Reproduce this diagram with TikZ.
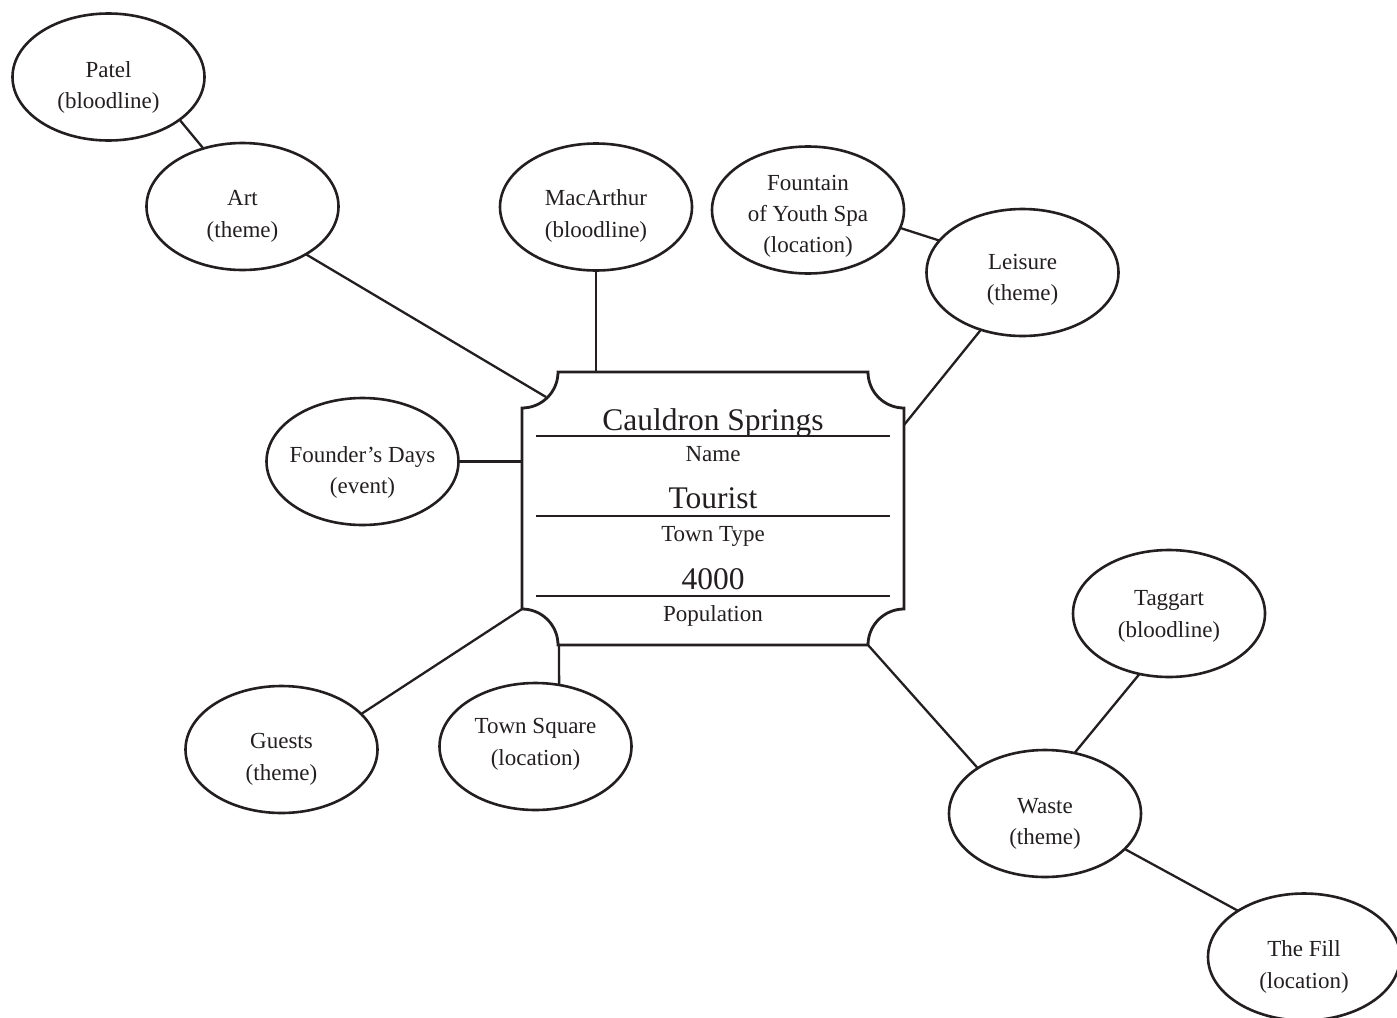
\documentclass[tikz,border=0pt]{standalone}
\usepackage{fontspec}
\setmainfont{Liberation Serif}
\usetikzlibrary{shapes.geometric}
\definecolor{ink}{RGB}{35,31,32}
\tikzset{
  ell/.style={ellipse, draw=ink, line width=2.6pt, minimum width=192pt, minimum height=127pt, inner sep=0pt, outer sep=0pt},
  lbl/.style={anchor=base, text=ink, font=\fontsize{23}{27}\selectfont, inner sep=0pt},
  big/.style={anchor=base, text=ink, font=\fontsize{31.5}{35}\selectfont, inner sep=0pt},
  conn/.style={draw=ink, line width=2.3pt},
  rule/.style={draw=ink, line width=1.3pt},
  boxline/.style={draw=ink, line width=2.8pt, line join=miter}
}
\begin{document}
\begin{tikzpicture}[x=1pt,y=1pt]
\useasboundingbox (0,0) rectangle (1397,-1017);
\fill[white] (0,0) rectangle (1397,-1017);

% central notched box
\draw[boxline] (558,-372) -- (868,-372)
  arc[start angle=180, end angle=270, radius=36] -- (904,-609)
  arc[start angle=90, end angle=180, radius=36] -- (558,-645)
  arc[start angle=0, end angle=90, radius=36] -- (522,-408)
  arc[start angle=270, end angle=360, radius=36] -- cycle;
\draw[rule] (536,-436) -- (890,-436);
\draw[rule] (536,-516) -- (890,-516);
\draw[rule] (536,-596) -- (890,-596);
\node[big] (tname) at (713,-430) {Cauldron Springs};
\node[lbl] (lname) at (713,-461) {Name};
\node[big] (ttype) at (713,-508) {Tourist};
\node[lbl] (ltype) at (713,-541) {Town Type};
\node[big] (tpop) at (713,-589) {4000};
\node[lbl] (lpop) at (713,-621) {Population};

% box attachment points
\coordinate (bArt) at (546,-397);
\coordinate (bMac) at (596,-372);
\coordinate (bLeis) at (904,-425);
\coordinate (bFound) at (522,-461.5);
\coordinate (bGuests) at (522,-609);
\coordinate (bTown) at (559,-645);
\coordinate (bWaste) at (868,-645);

% ellipses
\node[ell] (patel) at (108.5,-77) {};
\node[ell] (art) at (242.5,-206.5) {};
\node[ell] (mac) at (596,-207) {};
\node[ell] (fount) at (808,-210) {};
\node[ell] (leis) at (1022.5,-272.5) {};
\node[ell] (found) at (362.5,-461.5) {};
\node[ell] (guests) at (281.5,-749.5) {};
\node[ell] (town) at (535.5,-746.5) {};
\node[ell] (tagg) at (1169,-613.5) {};
\node[ell] (waste) at (1045,-813.5) {};
\node[ell] (fill) at (1304,-957) {};

% labels
\node[lbl] (patel1) at (108.5,-77) {Patel};
\node[lbl] (patel2) at (108.5,-108) {(bloodline)};
\node[lbl] (art1) at (242.5,-205) {Art};
\node[lbl] (art2) at (242.5,-237) {(theme)};
\node[lbl] (mac1) at (596,-205) {MacArthur};
\node[lbl] (mac2) at (596,-237) {(bloodline)};
\node[lbl] (fount1) at (808,-190) {Fountain};
\node[lbl] (fount2) at (808,-221) {of Youth Spa};
\node[lbl] (fount3) at (808,-252) {(location)};
\node[lbl] (leis1) at (1022.5,-269) {Leisure};
\node[lbl] (leis2) at (1022.5,-300) {(theme)};
\node[lbl] (found1) at (362.5,-462) {Founder’s Days};
\node[lbl] (found2) at (362.5,-493) {(event)};
\node[lbl] (guests1) at (281.5,-748) {Guests};
\node[lbl] (guests2) at (281.5,-780) {(theme)};
\node[lbl] (town1) at (535.5,-733) {Town Square};
\node[lbl] (town2) at (535.5,-765) {(location)};
\node[lbl] (tagg1) at (1169,-605) {Taggart};
\node[lbl] (tagg2) at (1169,-637) {(bloodline)};
\node[lbl] (waste1) at (1045,-813) {Waste};
\node[lbl] (waste2) at (1045,-844) {(theme)};
\node[lbl] (fill1) at (1304,-956) {The Fill};
\node[lbl] (fill2) at (1304,-988) {(location)};

% connectors
\draw[conn] (patel.-31.7) -- (art.124.7);
\draw[conn] (art.-37) -- (bArt);
\draw[conn] (mac.south) -- (bMac);
\draw[conn] (fount.-11.9) -- (leis.159);
\draw[conn] (leis.234.6) -- (bLeis);
\draw[conn] (found.east) -- (bFound);
\draw[conn] (guests.24.4) -- (bGuests);
\draw[conn] (town.69.7) -- (bTown);
\draw[conn] (waste.146.2) -- (bWaste);
\draw[conn] (tagg.-116) -- (waste.64.7);
\draw[conn] (waste.-24.1) -- (fill.145.7);
\end{tikzpicture}
\end{document}
